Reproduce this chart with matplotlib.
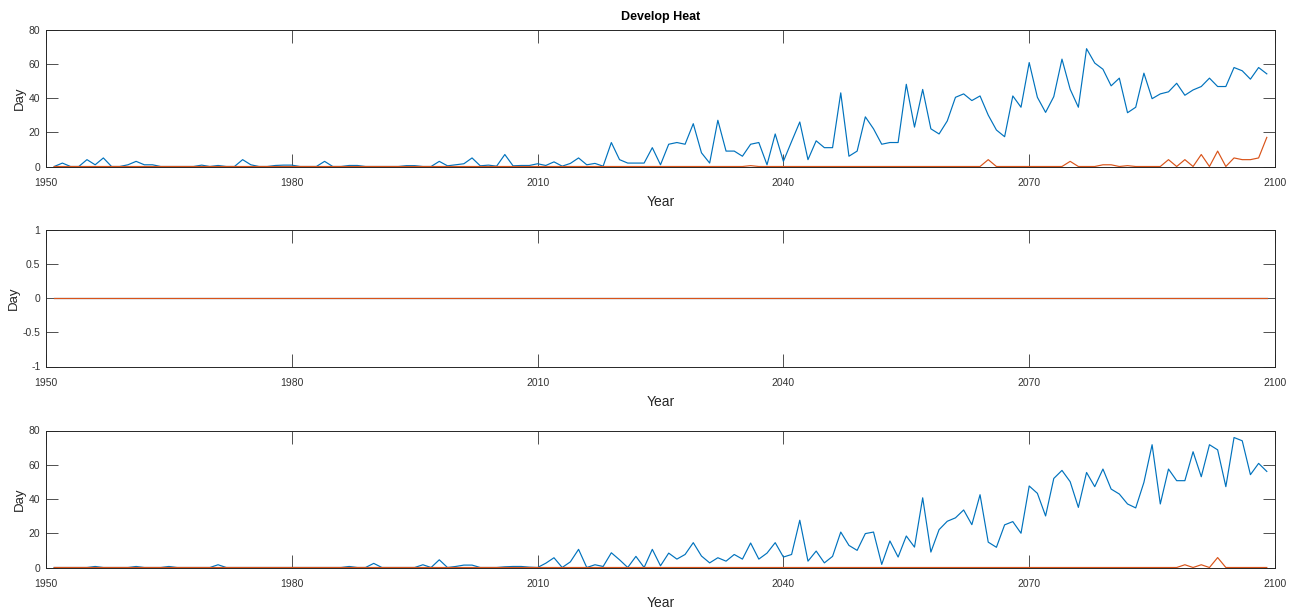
import matplotlib
matplotlib.use('Agg')
import matplotlib.pyplot as plt

plt.rcParams['font.family'] = ['Liberation Sans', 'DejaVu Sans']

years = list(range(1951, 2100))

# panel 1 (top)
top_blue = [
    0, 2, 0, 0, 4, 1, 5, 0, 0, 1,            # 1951-1960
    3, 1, 1, 0, 0, 0, 0, 0, 0.8, 0,          # 1961-1970
    0.6, 0, 0, 4, 1, 0, 0, 0.6, 0.8, 0.8,    # 1971-1980
    0, 0, 0, 3, 0, 0, 0.6, 0.6, 0, 0,        # 1981-1990
    0, 0, 0, 0.5, 0.5, 0, 0, 3, 0.4, 1,      # 1991-2000
    1.6, 5, 0.4, 0.8, 0.2, 7, 0.4, 0.6, 0.6, 1.6,   # 2001-2010
    0.6, 2.7, 0.2, 1.8, 5, 1, 1.8, 0.2, 14, 4,      # 2011-2020
    2, 2, 2, 11, 1, 13, 14, 13, 25, 8,              # 2021-2030
    2, 27, 9, 9, 6, 13, 14, 1, 19, 3,               # 2031-2040
    14.6, 26, 4, 15, 11, 11, 43, 6, 9, 29,          # 2041-2050
    22, 13, 14, 14, 48, 23, 45, 22, 19, 26.6,       # 2051-2060
    40.4, 42.4, 38.5, 41.2, 30, 21.3, 17.4, 41.2, 34.6, 60.7,   # 2061-2070
    40.4, 31.6, 40.8, 62.7, 45.1, 34.6, 68.8, 60.4, 56.8, 47.1, # 2071-2080
    51.6, 31.4, 34.6, 54.5, 39.6, 42.4, 43.6, 48.6, 41.6, 44.7, # 2081-2090
    46.7, 51.6, 46.7, 46.7, 57.8, 55.9, 51.0, 57.8, 54.1,       # 2091-2099
]
top_orange = [
    0, 0, 0, 0, 0, 0, 0, 0, 0, 0,     # 1951-1960
    0, 0, 0, 0, 0, 0, 0, 0, 0, 0,     # 1961-1970
    0, 0, 0, 0, 0, 0, 0, 0, 0, 0,     # 1971-1980
    0, 0, 0, 0, 0, 0, 0, 0, 0, 0,     # 1981-1990
    0, 0, 0, 0, 0, 0, 0, 0, 0, 0,     # 1991-2000
    0, 0, 0, 0, 0, 0, 0, 0, 0, 0,     # 2001-2010
    0, 0, 0, 0, 0, 0, 0, 0, 0, 0,     # 2011-2020
    0, 0, 0, 0, 0, 0, 0, 0, 0, 0,     # 2021-2030
    0, 0, 0, 0, 0, 0.5, 0, 0, 0, 0,   # 2031-2040
    0, 0, 0, 0, 0, 0, 0, 0, 0, 0,     # 2041-2050
    0, 0, 0, 0, 0, 0, 0, 0, 0, 0,     # 2051-2060
    0, 0, 0, 0, 4, 0, 0, 0, 0, 0,     # 2061-2070
    0, 0, 0, 0, 3, 0, 0, 0, 1, 1,     # 2071-2080
    0, 0.5, 0, 0, 0, 0, 4, 0, 4, 0,   # 2081-2090
    7, 0, 9, 0, 5, 4, 4, 5, 17,       # 2091-2099
]

# panel 2 (middle)
mid_blue = [0] * 149
mid_orange = [0] * 149

# panel 3 (bottom)
bot_blue = [
    0, 0, 0, 0, 0, 0.6, 0, 0, 0, 0,          # 1951-1960
    0.6, 0, 0, 0, 0.6, 0, 0, 0, 0, 0,        # 1961-1970
    1.6, 0, 0, 0, 0, 0, 0, 0, 0, 0,          # 1971-1980
    0, 0, 0, 0, 0, 0, 0.6, 0, 0, 2.4,        # 1981-1990
    0, 0, 0, 0, 0, 1.6, 0, 4.5, 0, 0.6,      # 1991-2000
    1.4, 1.4, 0, 0, 0, 0.4, 0.6, 0.6, 0.2, 0,       # 2001-2010
    2.5, 5.7, 0, 3.3, 10.6, 0, 1.6, 0.6, 8.6, 4.5,  # 2011-2020
    0, 6.5, 0, 10.6, 1, 8.4, 4.9, 7.6, 14.5, 6.7,   # 2021-2030
    2.7, 5.7, 3.7, 7.6, 4.9, 14.3, 4.9, 8.4, 14.5, 6.1,   # 2031-2040
    7.6, 27.6, 3.7, 9.6, 2.7, 6.5, 20.7, 12.9, 10, 19.8,  # 2041-2050
    20.7, 1.8, 15.5, 6.1, 18.4, 11.9, 40.7, 9, 22.1, 27,  # 2051-2060
    29, 33.6, 25, 42.5, 14.8, 11.8, 24.9, 26.8, 20, 47.6, # 2061-2070
    43.3, 30.1, 52, 56.7, 50.1, 35.1, 55.5, 47.2, 57.5, 45.8,   # 2071-2080
    42.9, 37.1, 34.8, 49.7, 71.7, 37.1, 57.5, 50.7, 50.7, 67.6, # 2081-2090
    53, 71.7, 68.7, 47.2, 75.9, 74, 54.2, 60.8, 56.1,           # 2091-2099
]
bot_orange = [0] * 138 + [1.6, 0, 1.6, 0, 5.8, 0, 0, 0, 0, 0, 0]  # nonzero 2089-2093

panels = [
    (top_blue, top_orange, (0, 80), [0, 20, 40, 60, 80], ['0', '20', '40', '60', '80']),
    (mid_blue, mid_orange, (-1, 1), [-1, -0.5, 0, 0.5, 1], ['-1', '-0.5', '0', '0.5', '1']),
    (bot_blue, bot_orange, (0, 80), [0, 20, 40, 60, 80], ['0', '20', '40', '60', '80']),
]
xticks = [1950, 1980, 2010, 2040, 2070, 2100]

fig = plt.figure(figsize=(12.96, 6.09), dpi=100)
tops = [29.5, 229.5, 430.5]
for (blue, orange, ylim, yt, ytl), top in zip(panels, tops):
    ax = fig.add_axes([46 / 1296, 1 - (top + 137) / 609, 1229 / 1296, 137 / 609])
    ax.plot(years, blue, color='#0072BD', lw=0.85)
    ax.plot(years, orange, color='#D95319', lw=0.85)
    ax.set_xlim(1950, 2100)
    ax.set_ylim(*ylim)
    ax.set_xticks(xticks)
    ax.set_xticklabels([str(x) for x in xticks])
    ax.set_yticks(yt)
    ax.set_yticklabels(ytl)
    ax.tick_params(direction='in', top=True, right=True, labelsize=7.5,
                   colors='#333333', width=0.6)
    ax.tick_params(axis='x', length=9.5, pad=8)
    ax.tick_params(axis='y', length=8.5, pad=4)
    for s in ax.spines.values():
        s.set_color('#262626')
        s.set_linewidth(0.7)
    ax.set_xlabel('Year', fontsize=10, color='#262626', labelpad=5)
    ax.set_ylabel('Day', fontsize=9.5, color='#262626', labelpad=2)
    if top == tops[0]:
        ax.set_title('Develop Heat', fontsize=9, fontweight='bold', pad=6.5)

fig.savefig('out.png', dpi=100)
